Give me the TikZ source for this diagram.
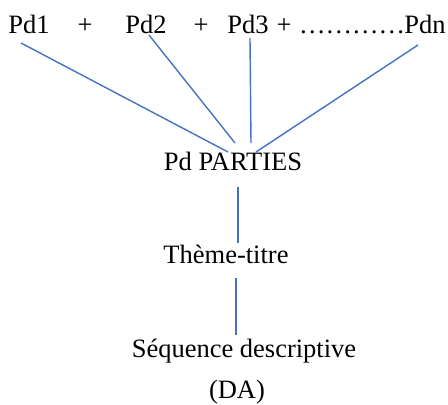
\documentclass[tikz,border=0pt]{standalone}
\usepackage{fontspec}
\setmainfont{Liberation Serif}
\usepackage{tikz}

\tikzset{
	txt/.style={anchor=base, inner sep=0pt, font=\fontsize{26.5}{30}\selectfont},
	link/.style={draw=linkblue, line width=1.4pt}
}
\definecolor{linkblue}{HTML}{4472C4}

\begin{document}
\begin{tikzpicture}[x=1pt,y=-1pt]
	\useasboundingbox (0,0) rectangle (448,405);
	\node[txt] (pdone) at (29,33) {Pd1};
	\node[txt] (plusone) at (85,33) {+};
	\node[txt] (pdtwo) at (146,33) {Pd2};
	\node[txt] (plustwo) at (201,33) {+};
	\node[txt] (pdthree) at (248,33) {Pd3};
	\node[txt] (plusthree) at (284,33) {+};
	\node[txt] (dots) at (352,33) {…………};
	\node[txt] (pdn) at (425,33) {Pdn};
	\node[txt] (parties) at (233,170) {Pd PARTIES};
	\node[txt] (theme) at (226,263) {Thème-titre};
	\node[txt] (sequence) at (244,357) {Séquence descriptive};
	\node[txt] (da) at (237,398) {(DA)};
	\draw[link] ([shift={(-8,10)}]pdone.base) -- ([shift={(-5,-18)}]parties.base);
	\draw[link] ([shift={(3,2)}]pdtwo.base) -- ([shift={(2,-27)}]parties.base);
	\draw[link] ([shift={(2,5)}]pdthree.base) -- ([shift={(18,-27)}]parties.base);
	\draw[link] ([shift={(-7,12)}]pdn.base) -- ([shift={(23,-18)}]parties.base);
	\draw[link] ([shift={(5,17)}]parties.base) -- ([shift={(12,-20)}]theme.base);
	\draw[link] ([shift={(10,15)}]theme.base) -- ([shift={(-8,-22)}]sequence.base);
\end{tikzpicture}
\end{document}
